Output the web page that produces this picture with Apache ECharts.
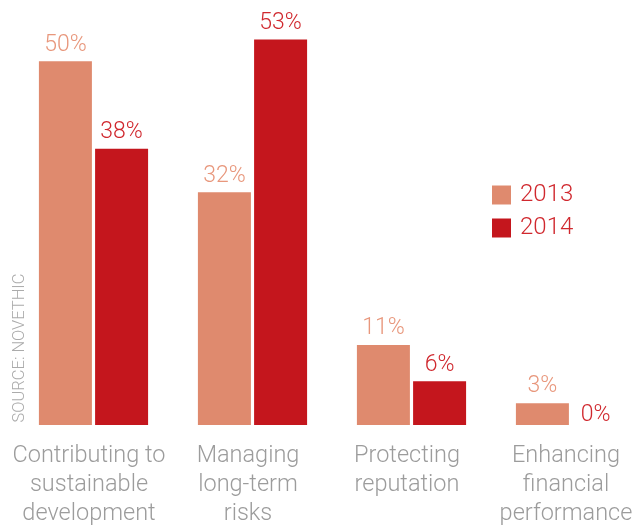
<!DOCTYPE html>
<html>
<head>
<meta charset="utf-8">
<style>
  html, body { margin: 0; padding: 0; background: #fff; }
  #chart { width: 640px; height: 527px; }
</style>
<script src="https://cdn.jsdelivr.net/npm/echarts@6/dist/echarts.min.js"></script>
</head>
<body>
<div id="chart"></div>
<script>
// Reasons given for responsible investment, share of respondents (%)
const categories = [
  'Contributing to\nsustainable\ndevelopment',
  'Managing\nlong-term\nrisks',
  'Protecting\nreputation',
  'Enhancing\nfinancial\nperformance'
];
const seriesNames = ['2013', '2014'];
const values2013 = [50, 32, 11, 3];
const values2014 = [38, 53, 6, 0];
const sourceText = 'SOURCE: NOVETHIC';

const FONT = 'Roboto';
const barColors = ['#DF8A6E', '#C4161D'];
const labelColors = ['#E8977C', '#D0282E'];

const chart = echarts.init(document.getElementById('chart'), null, { renderer: 'canvas' });

function barSeries(name, values, idx) {
  // an empty bar keeps its label sitting low, next to the baseline
  const data = values.map(v => v === 0
    ? { value: v, label: { offset: [-3, 7] } }
    : v);
  return {
    name: name,
    type: 'bar',
    data: data,
    barWidth: 53,
    barGap: '6%',
    itemStyle: { color: barColors[idx] },
    label: {
      show: true,
      position: 'top',
      distance: 5,
      formatter: '{c}%',
      color: labelColors[idx],
      fontFamily: FONT,
      fontWeight: 300,
      fontSize: 23
    },
    emphasis: { disabled: true },
    animation: false
  };
}

chart.setOption({
  backgroundColor: '#ffffff',
  animation: false,
  grid: {
    left: 14, width: 636, top: 25, bottom: 102,
    containLabel: false,
    outerBoundsMode: 'none'
  },
  legend: {
    orient: 'vertical',
    left: 492,
    top: 183,
    padding: 0,
    itemWidth: 19,
    itemHeight: 19,
    itemGap: 9,
    icon: 'rect',
    selectedMode: false,
    textStyle: { color: '#D0282E', fontFamily: FONT, fontWeight: 300, fontSize: 24, padding: [0, 0, 0, 4] },
    data: seriesNames
  },
  xAxis: {
    type: 'category',
    data: categories,
    axisLine: { show: false },
    axisTick: { show: false },
    axisLabel: {
      interval: 0,
      margin: 17,
      padding: [0, 9, 0, 0],
      color: '#9C9C9C',
      fontFamily: FONT,
      fontWeight: 300,
      fontSize: 23.5,
      lineHeight: 29
    }
  },
  yAxis: {
    type: 'value',
    min: 0,
    max: 55,
    show: false,
    splitLine: { show: false }
  },
  graphic: [{
    type: 'text',
    x: 20,
    y: 348,
    rotation: Math.PI / 2,
    style: {
      text: sourceText,
      fill: '#ABABAB',
      font: '300 16.5px ' + FONT,
      align: 'center',
      verticalAlign: 'middle'
    }
  }],
  series: [
    barSeries(seriesNames[0], values2013, 0),
    barSeries(seriesNames[1], values2014, 1)
  ]
});
</script>
</body>
</html>
